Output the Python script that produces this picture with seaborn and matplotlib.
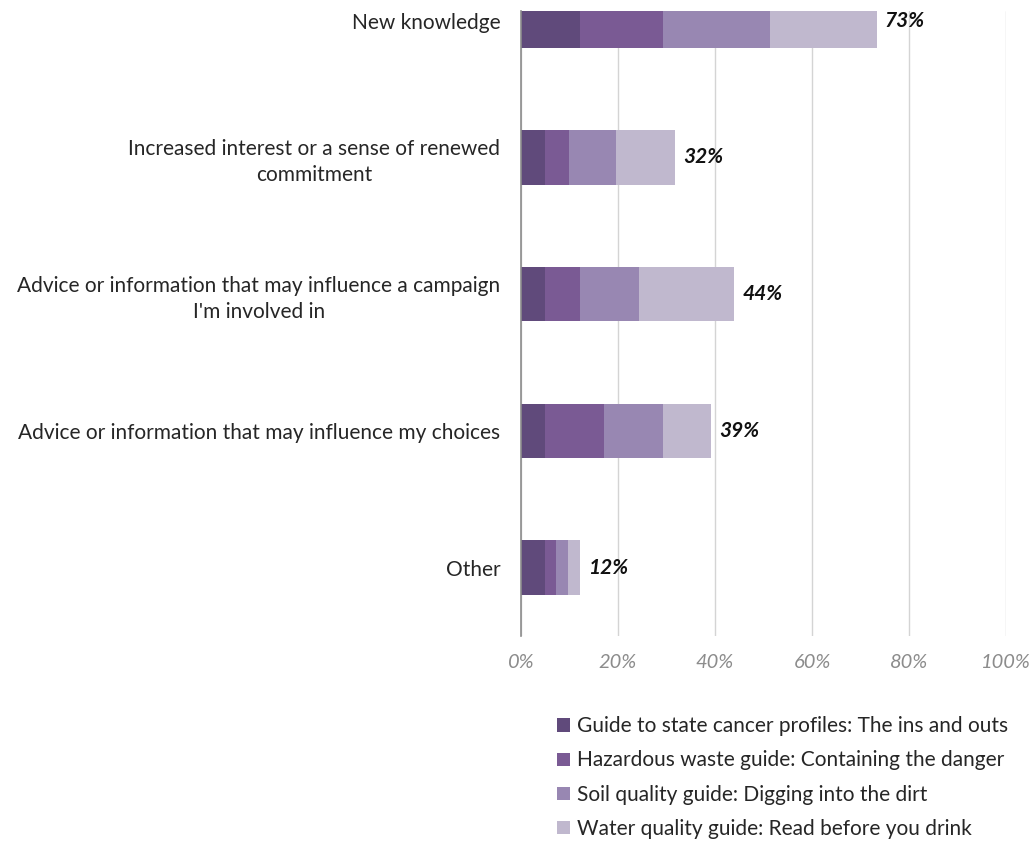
import matplotlib
matplotlib.use("Agg")
import matplotlib.pyplot as plt
from matplotlib.patches import Patch
import numpy as np
import pandas as pd
import seaborn as sns

# Share of respondents (%) by benefit, split by guide
categories = [
    "New knowledge",
    "Increased interest or a sense of renewed\ncommitment",
    "Advice or information that may influence a campaign\nI'm involved in",
    "Advice or information that may influence my choices",
    "Other",
]
series_names = [
    "Guide to state cancer profiles: The ins and outs",
    "Hazardous waste guide: Containing the danger",
    "Soil quality guide: Digging into the dirt",
    "Water quality guide: Read before you drink",
]
cancer_profiles = [12.2, 4.9, 4.9, 4.9, 4.9]
hazardous_waste = [17.1, 4.9, 7.3, 12.2, 2.4]
soil_quality = [22.0, 9.8, 12.2, 12.2, 2.4]
water_quality = [22.0, 12.2, 19.5, 9.8, 2.4]
tick_labels = ["0%", "20%", "40%", "60%", "80%", "100%"]

colors = ["#604A7B", "#7A5A94", "#9887B2", "#C0B8CE"]

sns.set_theme(style="white")
plt.rcParams["font.family"] = ["Lato", "DejaVu Sans"]

fig = plt.figure(figsize=(10.35, 8.43), dpi=100)
ax = fig.add_axes([521 / 1035, 1 - 636 / 843, 485 / 1035, 625 / 843])

series = [cancer_profiles, hazardous_waste, soil_quality, water_quality]
cumulative = np.cumsum(np.array(series), axis=0)

# Stacked bars: draw the running totals from the outermost segment inward
for k in range(len(series) - 1, -1, -1):
    df = pd.DataFrame({"category": categories, "value": cumulative[k]})
    sns.barplot(data=df, x="value", y="category", orient="h", color=colors[k],
                saturation=1, width=0.4, linewidth=0, ax=ax)

totals = cumulative[-1]
for i, t in enumerate(totals):
    ax.text(t + 1.7, i, f"{round(t)}%", va="center", ha="left",
            fontsize=15, fontweight="bold", fontstyle="italic", color="#111111")

ax.set_xlim(0, 100)
ax.set_ylim(4.5, -0.07)
ax.set_xticks(np.arange(0, 101, 20))
ax.set_xticklabels(tick_labels)
ax.set_xlabel("")
ax.set_ylabel("")
ax.grid(axis="x", color="#D4D4D4", linewidth=1)
ax.grid(axis="y", visible=False)
ax.set_axisbelow(True)
for side in ["top", "right", "bottom"]:
    ax.spines[side].set_visible(False)
ax.spines["left"].set_color("#8C8C8C")
ax.spines["left"].set_linewidth(1.2)
ax.tick_params(axis="x", length=0, pad=13, labelsize=14.5, labelcolor="#8C8C8C")
ax.tick_params(axis="y", length=0, pad=15, labelsize=15, labelcolor="#262626")
for lab in ax.get_xticklabels():
    lab.set_fontstyle("italic")
for lab in ax.get_yticklabels():
    lab.set_multialignment("center")
    lab.set_linespacing(1.35)

handles = [Patch(facecolor=c, edgecolor="none") for c in colors]
fig.legend(handles, series_names, loc="upper left",
           bbox_to_anchor=(549 / 1035, 1 - 708 / 843), frameon=False,
           fontsize=15, handlelength=0.6, handleheight=0.6, handletextpad=0.35,
           labelspacing=0.68, labelcolor="#262626", borderaxespad=0)

fig.savefig("out.png", dpi=100, facecolor="white")
